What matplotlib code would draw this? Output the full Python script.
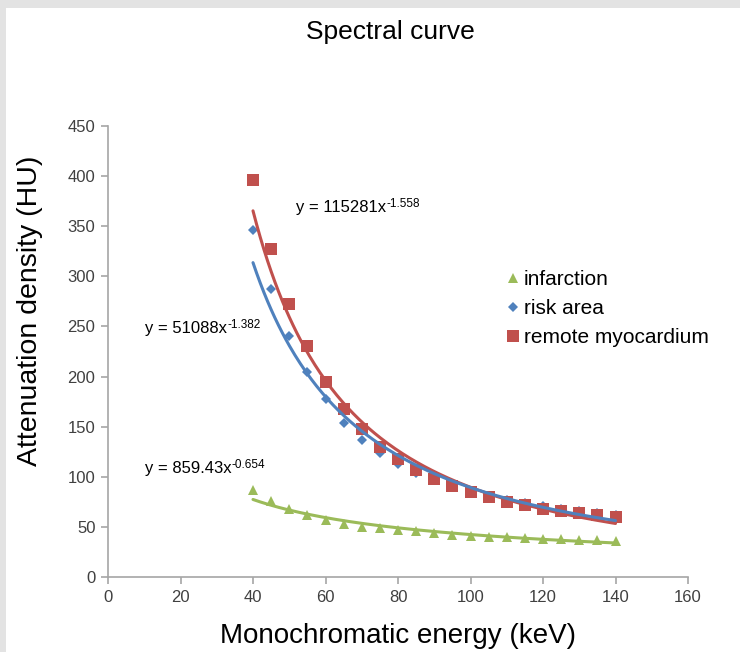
"""Spectral curve: attenuation density vs monochromatic energy with power trendlines."""

import matplotlib

matplotlib.use("Agg")

import numpy as np
from matplotlib import pyplot as plt
from matplotlib.patches import Rectangle

plt.rcParams["font.family"] = ["Liberation Sans", "DejaVu Sans"]

energy = [40, 45, 50, 55, 60, 65, 70, 75, 80, 85, 90, 95, 100,
          105, 110, 115, 120, 125, 130, 135, 140]
infarction = [87, 76, 68, 62, 57, 53, 50, 49, 47, 46, 44, 42, 41,
              40, 40, 39, 38, 38, 37, 37, 36]
risk_area = [346, 287, 240, 205, 178, 154, 137, 124, 113, 104, 97, 92, 86,
             81, 77, 74, 71, 68, 66, 64, 62]
remote = [396, 327, 272, 230, 195, 168, 148, 130, 118, 107, 98, 91, 85,
          80, 75, 72, 68, 66, 64, 62, 60]

series_names = ["infarction", "risk area", "remote myocardium"]
eq_bases = ["y = 859.43x", "y = 51088x", "y = 115281x"]
eq_powers = ["-0.654", "-1.382", "-1.558"]

GREEN = "#9BBB59"
BLUE = "#4F81BD"
RED = "#C0504D"
AXIS_GRAY = "#A6A6A6"
TEXT = "#404040"

fig = plt.figure(figsize=(7.4, 6.52), dpi=100, facecolor="white")
# grey frame showing on the left and top edges
fig.patches.append(Rectangle((0, 0), 6 / 740, 1, transform=fig.transFigure,
                             facecolor="#E3E3E3", edgecolor="none"))
fig.patches.append(Rectangle((0, 1 - 8 / 652), 1, 8 / 652, transform=fig.transFigure,
                             facecolor="#E3E3E3", edgecolor="none"))

ax = fig.add_axes([108 / 740, 1 - 577 / 652, 580 / 740, 451 / 652])

x = np.array(energy, dtype=float)
styles = [
    (infarction, GREEN, "^", 7.5),
    (risk_area, BLUE, "D", 5.5),
    (remote, RED, "s", 8),
]
handles = []
for (values, color, marker, size), name in zip(styles, series_names):
    (h,) = ax.plot(x, values, linestyle="none", marker=marker, markersize=size,
                   color=color, markeredgewidth=0, label=name, zorder=2)
    handles.append(h)

# power trendlines fitted in log-log space, like Excel does
line_z = {GREEN: 3, RED: 3.1, BLUE: 3.2}
for values, color, _, _ in styles:
    b, log_a = np.polyfit(np.log(x), np.log(values), 1)
    xs = np.linspace(x.min(), x.max(), 200)
    ax.plot(xs, np.exp(log_a) * xs ** b, color=color, linewidth=2.2,
            zorder=line_z[color], solid_capstyle="round")

ax.set_xlim(0, 160)
ax.set_ylim(0, 450)
ax.set_xticks(range(0, 161, 20))
ax.set_yticks(range(0, 451, 50))
for side in ("top", "right"):
    ax.spines[side].set_visible(False)
for side in ("left", "bottom"):
    ax.spines[side].set_color(AXIS_GRAY)
    ax.spines[side].set_linewidth(1.2)
ax.tick_params(direction="out", length=5, width=1.2, color=AXIS_GRAY,
               labelsize=12, labelcolor=TEXT, pad=4)

fig.text(390 / 740, 1 - 32 / 652, "Spectral curve", ha="center", va="center",
         fontsize=19, color="black")
fig.text(398 / 740, 1 - 636 / 652, "Monochromatic energy (keV)", ha="center",
         va="center", fontsize=20, color="black")
fig.text(30 / 740, 1 - 311 / 652, "Attenuation density (HU)", ha="center",
         va="center", rotation=90, fontsize=20.5, color="black")

# equation labels: base text, then the exponent raised just after it
renderer = fig.canvas.get_renderer()
label_pos = [(145, 468), (145, 328), (296, 208)]
for base, power, (px, py) in zip(eq_bases, eq_powers, label_pos):
    t = fig.text(px / 740, 1 - py / 652, base, ha="left", va="center",
                 fontsize=12, color="black")
    bb = t.get_window_extent(renderer).transformed(fig.transFigure.inverted())
    fig.text(bb.x1, bb.y1 - 4 / 652, power, ha="left", va="center",
             fontsize=8.5, color="black")

ax.legend(handles, series_names, loc="upper left",
          bbox_to_anchor=(507 / 740, 1 - 270 / 652), bbox_transform=fig.transFigure,
          frameon=False, fontsize=15, handlelength=0.55, handletextpad=0.25,
          labelspacing=0.48, borderaxespad=0, borderpad=0, markerscale=1.0)

fig.savefig("out.png", dpi=100, facecolor="white")
